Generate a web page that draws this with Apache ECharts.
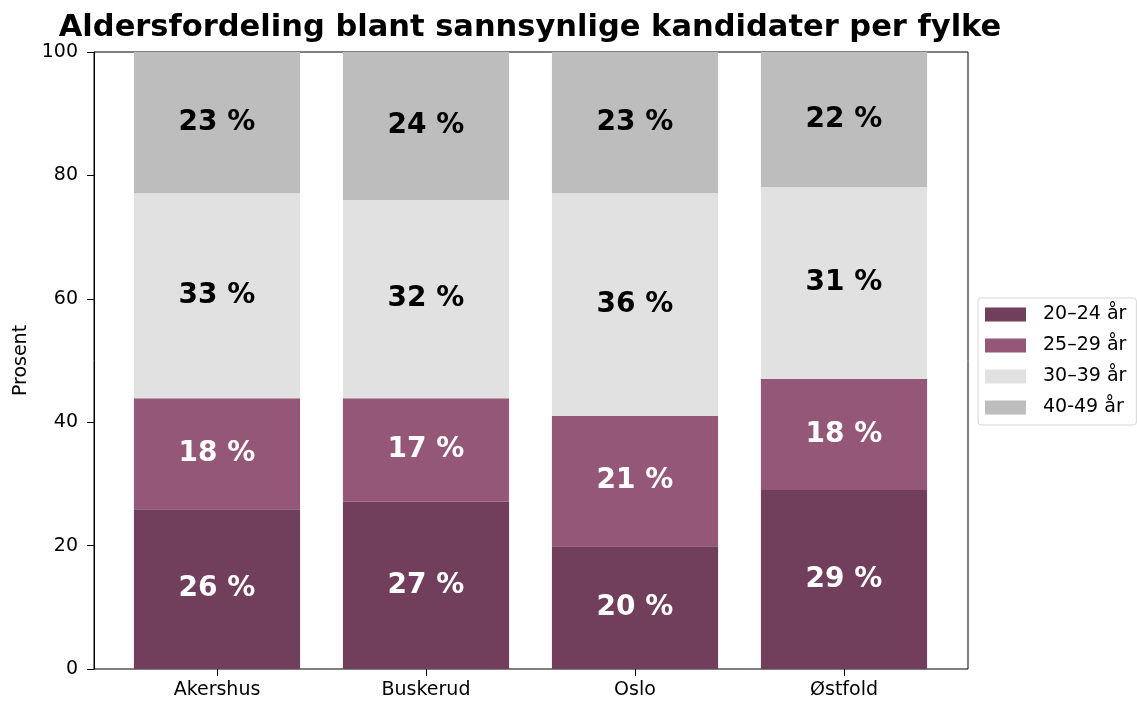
<!DOCTYPE html>
<html>
<head>
<meta charset="utf-8">
<script src="https://cdn.jsdelivr.net/npm/echarts@6/dist/echarts.min.js"></script>
<style>
    html, body { margin: 0; padding: 0; background: #fff; }
    #chart { width: 1137px; height: 702px; }
</style>
</head>
<body>
<div id="chart"></div>
<script>
    // data
    var fylker = ['Akershus', 'Buskerud', 'Oslo', 'Østfold'];
    var grupper = ['20–24 år', '25–29 år', '30–39 år', '40-49 år'];
    var alder2024 = [25.9, 27.1, 19.9, 29.0];
    var alder2529 = [18.0, 16.8, 21.1, 18.0];
    var alder3039 = [33.2, 32.1, 36.1, 31.1];
    var alder4049 = [22.9, 24.0, 22.9, 21.9];

    var farger = ['#713f5b', '#955777', '#e1e1e1', '#bdbdbd'];
    var tekstFarger = ['#fff', '#fff', '#000', '#000'];
    var verdier = [alder2024, alder2529, alder3039, alder4049];
    var font = 'DejaVu Sans';

    var chart = echarts.init(document.getElementById('chart'));

    // grid 0 = frame + y axis, grid 1 = bars (narrower, like matplotlib x margins)
    var series = grupper.map(function (navn, i) {
        return {
            name: navn,
            type: 'bar',
            stack: 'alder',
            xAxisIndex: 1,
            yAxisIndex: 1,
            barWidth: '79.5%',
            itemStyle: { color: farger[i] },
            label: {
                show: true,
                position: 'inside',
                color: tekstFarger[i],
                fontFamily: font,
                fontWeight: 'bold',
                fontSize: 28,
                formatter: function (p) {
                    return Math.round(p.value) + ' %';
                }
            },
            emphasis: { disabled: true },
            data: verdier[i]
        };
    });

    chart.setOption({
        animation: false,
        title: {
            text: 'Aldersfordeling blant sannsynlige kandidater per fylke',
            left: 525,
            textAlign: 'center',
            top: 8,
            textStyle: { fontFamily: font, fontWeight: 'bold', fontSize: 30.5, color: '#000' }
        },
        legend: {
            orient: 'vertical',
            left: 978,
            top: 298,
            padding: [7, 10, 8, 7],
            itemWidth: 41,
            itemHeight: 14,
            itemGap: 12,
            icon: 'rect',
            borderColor: '#d6d6d6',
            borderWidth: 1,
            borderRadius: 3,
            textStyle: { fontFamily: font, fontSize: 19, color: '#000', padding: [0, 0, 0, 12] },
            data: grupper
        },
        grid: [{
            left: 94,
            right: 169,
            top: 52,
            bottom: 33,
            show: true,
            borderColor: '#000',
            borderWidth: 1,
            backgroundColor: 'transparent'
        }, {
            left: 112.5,
            right: 188.5,
            top: 52,
            bottom: 33
        }],
        xAxis: [{
            gridIndex: 0,
            type: 'value',
            min: 0,
            max: 1,
            show: false
        }, {
            gridIndex: 1,
            type: 'category',
            data: fylker,
            axisLine: { show: false },
            axisTick: { show: true, alignWithLabel: true, length: 7, lineStyle: { color: '#000' } },
            axisLabel: {
                margin: 12,
                fontFamily: font,
                fontSize: 19,
                color: '#000'
            }
        }],
        yAxis: [{
            gridIndex: 0,
            type: 'value',
            min: 0,
            max: 100,
            interval: 20,
            name: 'Prosent',
            nameLocation: 'middle',
            nameGap: 63,
            nameTextStyle: { fontFamily: font, fontSize: 19, color: '#000' },
            splitLine: { show: false },
            axisLine: { show: true, onZero: false, lineStyle: { color: '#000' } },
            axisTick: { show: true, length: 7, lineStyle: { color: '#000' } },
            axisLabel: {
                margin: 16,
                fontFamily: font,
                fontSize: 19,
                color: '#000'
            }
        }, {
            gridIndex: 1,
            type: 'value',
            min: 0,
            max: 100,
            show: false
        }],
        series: series
    });
</script>
</body>
</html>
